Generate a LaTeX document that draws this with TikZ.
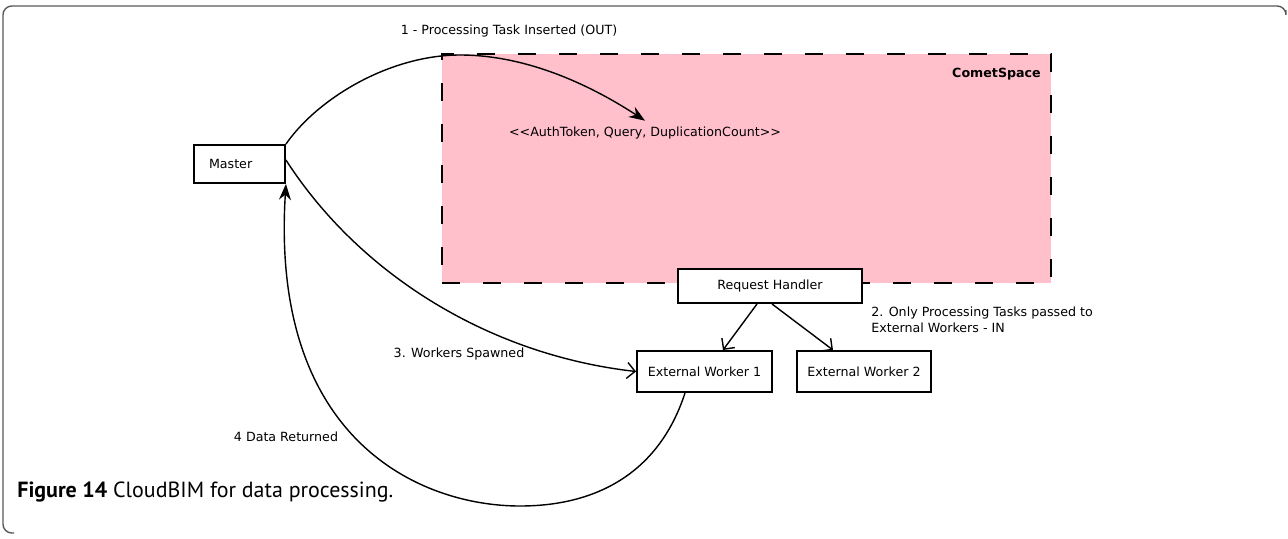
\documentclass[tikz,border=0pt]{standalone}
\usepackage{fontspec}
\newfontfamily\dgfont{DejaVu Sans}
\newfontfamily\capfont{PT Sans}
\usetikzlibrary{arrows.meta}
\definecolor{cometpink}{RGB}{255,192,203}
\tikzset{
  box/.style={draw,line width=1.1pt,fill=white},
  flow/.style={line width=0.8pt,-{Stealth[length=3.2mm,width=2.4mm]}},
  pass/.style={line width=0.8pt,-{Straight Barb[length=1.6mm,width=3.2mm]}}
}

\begin{document}
\begin{tikzpicture}[x=0.02cm,y=-0.02cm,every node/.style={font=\dgfont\fontsize{7.2}{9}\selectfont}]
      \useasboundingbox (0,0) rectangle (1288,538);
      \draw[gray!70!black,line width=0.8pt,rounded corners=5pt] (1286,10) -- (1286,6) -- (3,6) -- (3,533) -- (14,533);
      \node[draw=black,line width=1.3pt,dash pattern=on 0.36cm off 0.46cm,fill=cometpink,minimum width=12.18cm,minimum height=4.58cm,inner sep=0pt] (comet) at (746.5,168.5) {};
      \node[anchor=north east,font=\dgfont\bfseries\fontsize{7.2}{9}\selectfont] (cometlbl) at (1047,62) {CometSpace};
      \node[box,minimum width=1.82cm,minimum height=0.76cm,text width=1.22cm,inner xsep=0.3cm,align=left] (master) at (239.5,164) {Master};
      \node[box,minimum width=3.68cm,minimum height=0.68cm] (rh) at (770,286) {Request Handler};
      \node[box,minimum width=2.7cm,minimum height=0.82cm] (ew1) at (704.5,371.5) {External Worker 1};
      \node[box,minimum width=2.68cm,minimum height=0.82cm] (ew2) at (864,371.5) {External Worker 2};
      \node (tuple) at (645,133) {<\kern0pt<AuthToken, Query, DuplicationCount>\kern0pt>};
      \node (outlbl) at (509,31) {1 - Processing Task Inserted (OUT)};
      \node[anchor=north west,align=left,inner sep=0pt] (inlbl) at (871,307) {2. Only Processing Tasks passed to\\External Workers - IN};
      \node (spawnlbl) at (459,354) {3. Workers Spawned};
      \node (retlbl) at (286,437) {4 Data Returned};
      \node[anchor=base west,inner sep=0pt,font=\capfont\fontsize{12.5}{15}\selectfont] (caption) at (17,497) {\textbf{Figure 14} CloudBIM for data processing.};
      \draw[flow] (master.north east) .. controls (318,98) and (390,55) .. (460,55) .. controls (530,55) and (595,88) .. (tuple.north);
      \draw[pass] ([yshift=0.08cm]master.east) .. controls (360,275) and (490,355) .. (ew1.west);
      \draw[flow] ([xshift=-0.39cm]ew1.south) .. controls (660,470) and (600,506) .. (520,506) .. controls (420,506) and (270,440) .. (master.south east);
      \draw[pass] ([xshift=-0.26cm]rh.south) -- ([xshift=0.37cm]ew1.north);
      \draw[pass] ([xshift=0.04cm]rh.south) -- ([xshift=-0.62cm]ew2.north);
\end{tikzpicture}
\end{document}
